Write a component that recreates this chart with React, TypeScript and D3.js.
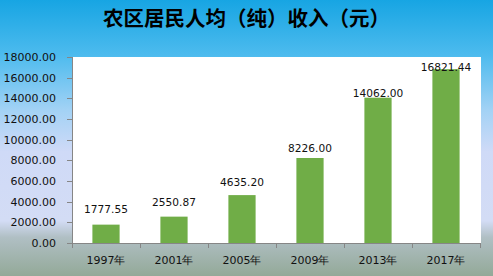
import React from "react";
import * as d3 from "d3";

const TITLE = "农区居民人均（纯）收入（元）";
const categories = ["1997年", "2001年", "2005年", "2009年", "2013年", "2017年"];
const incomes = [1777.55, 2550.87, 4635.2, 8226.0, 14062.0, 16821.44];
const yTicks = [0, 2000, 4000, 6000, 8000, 10000, 12000, 14000, 16000, 18000];

const W = 493;
const H = 276;
const plot = { left: 72, right: 480, top: 57, bottom: 243 };
const FONT = "'DejaVu Sans', sans-serif";

export default function App() {
  const x = d3
    .scaleBand<string>()
    .domain(categories)
    .range([plot.left, plot.right])
    .paddingInner(0.6)
    .paddingOuter(0.3);
  const xCat = d3.scaleBand<string>().domain(categories).range([plot.left, plot.right]);
  const y = d3.scaleLinear().domain([0, 18000]).range([plot.bottom, plot.top]);
  // data labels sit on a slightly compressed scale (as in the original)
  const yLabel = d3.scaleLinear().domain([0, 18000]).range([230.1, 59.8]);

  return (
    <svg
      width={W}
      height={H}
      style={{ position: "fixed", left: 0, top: 0, display: "block" }}
    >
      <defs>
        <linearGradient id="bg" x1="0" y1="0" x2="0" y2="1">
          <stop offset="0" stopColor="#17a5e3" />
          <stop offset="0.2" stopColor="#4dbbee" />
          <stop offset="0.4" stopColor="#a3d2f5" />
          <stop offset="0.55" stopColor="#cfdaf7" />
          <stop offset="0.8" stopColor="#d3dcf5" />
          <stop offset="0.86" stopColor="#b0bfc4" />
          <stop offset="1" stopColor="#93a998" />
        </linearGradient>
      </defs>
      <rect x={0} y={0} width={W} height={H} fill="url(#bg)" />
      <text
        x={246.5}
        y={26}
        textAnchor="middle"
        fontFamily="'Noto Sans CJK SC', sans-serif"
        fontWeight="bold"
        fontSize={20.5}
        fill="#000"
      >
        {TITLE}
      </text>
      <rect
        x={plot.left}
        y={plot.top}
        width={plot.right - plot.left + 1}
        height={plot.bottom - plot.top}
        fill="#ffffff"
      />
      {incomes.map((v, i) => (
        <rect
          key={categories[i]}
          x={x(categories[i])}
          y={y(v)}
          width={x.bandwidth()}
          height={y(0) - y(v)}
          fill="#70ad47"
        />
      ))}
      {incomes.map((v, i) => (
        <text
          key={"l" + i}
          x={(x(categories[i]) as number) + x.bandwidth() / 2}
          y={yLabel(v)}
          textAnchor="middle"
          fontFamily={FONT}
          fontSize={10.6}
          fill="#111"
        >
          {v.toFixed(2)}
        </text>
      ))}
      {/* y axis */}
      <line x1={plot.left + 0.5} x2={plot.left + 0.5} y1={plot.top} y2={plot.bottom} stroke="#868686" />
      {yTicks.map((t) => (
        <g key={t}>
          <line
            x1={plot.left - 5}
            x2={plot.left}
            y1={Math.round(y(t)) + 0.5}
            y2={Math.round(y(t)) + 0.5}
            stroke="#868686"
          />
          <text
            x={56}
            y={y(t) + 4}
            textAnchor="end"
            fontFamily={FONT}
            fontSize={11}
            fill="#111"
          >
            {t.toFixed(2)}
          </text>
        </g>
      ))}
      {/* x axis */}
      <line x1={plot.left} x2={plot.right} y1={plot.bottom + 0.5} y2={plot.bottom + 0.5} stroke="#868686" />
      {[...categories.map((c) => xCat(c) as number), plot.right].map((bx, i) => (
        <line
          key={"xt" + i}
          x1={Math.round(bx) + 0.5}
          x2={Math.round(bx) + 0.5}
          y1={plot.bottom}
          y2={plot.bottom + 5}
          stroke="#868686"
        />
      ))}
      {categories.map((c) => (
        <text
          key={"xl" + c}
          x={(xCat(c) as number) + xCat.bandwidth() / 2}
          y={264}
          textAnchor="middle"
          fontFamily={FONT}
          fontSize={11}
          fill="#111"
        >
          {c}
        </text>
      ))}
    </svg>
  );
}
